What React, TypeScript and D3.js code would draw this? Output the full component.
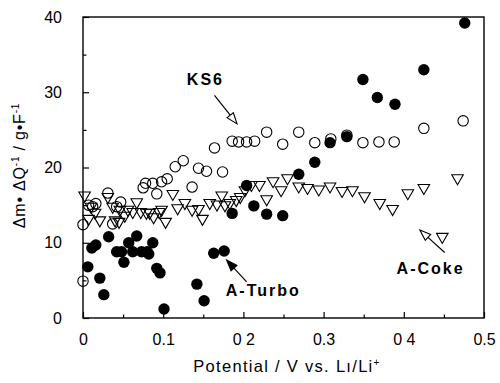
import React, { useEffect, useRef } from "react";
import * as d3 from "d3";

// ---- data ----
const turboV = [0.006, 0.011, 0.016, 0.021, 0.026, 0.032, 0.042, 0.048, 0.051, 0.057, 0.062, 0.067, 0.073, 0.080, 0.082, 0.087, 0.092, 0.096, 0.101, 0.142, 0.151, 0.163, 0.176, 0.186, 0.204, 0.213, 0.229, 0.249, 0.269, 0.289, 0.308, 0.329, 0.349, 0.367, 0.389, 0.425, 0.476];
const turboY = [6.8, 9.3, 9.7, 5.3, 3.1, 10.8, 8.8, 8.8, 7.4, 10.0, 8.8, 10.9, 8.8, 8.8, 8.5, 10.0, 6.6, 6.0, 1.2, 4.5, 2.3, 8.6, 8.9, 13.9, 17.6, 14.9, 13.8, 13.6, 19.1, 20.7, 23.3, 24.1, 31.7, 29.3, 28.4, 33.0, 39.2];

const ks6V = [0.0, 0.0, 0.007, 0.012, 0.016, 0.031, 0.037, 0.042, 0.047, 0.075, 0.078, 0.087, 0.092, 0.098, 0.105, 0.115, 0.125, 0.136, 0.144, 0.154, 0.164, 0.174, 0.186, 0.194, 0.204, 0.214, 0.229, 0.249, 0.269, 0.289, 0.309, 0.329, 0.349, 0.369, 0.388, 0.425, 0.474];
const ks6Y = [4.9, 12.4, 15.0, 14.8, 15.2, 16.6, 12.5, 14.8, 15.4, 17.3, 17.9, 17.9, 16.5, 18.1, 18.5, 20.1, 20.9, 17.4, 19.9, 19.5, 22.6, 19.4, 23.5, 23.4, 23.4, 23.5, 24.7, 23.1, 24.7, 23.3, 23.8, 24.3, 23.3, 23.4, 23.4, 25.2, 26.2];

const cokeV = [0.002, 0.007, 0.010, 0.015, 0.021, 0.031, 0.037, 0.040, 0.045, 0.046, 0.052, 0.056, 0.062, 0.067, 0.072, 0.079, 0.083, 0.088, 0.095, 0.098, 0.103, 0.112, 0.118, 0.127, 0.136, 0.144, 0.149, 0.158, 0.167, 0.173, 0.177, 0.183, 0.191, 0.196, 0.202, 0.210, 0.220, 0.229, 0.237, 0.247, 0.255, 0.269, 0.280, 0.294, 0.308, 0.323, 0.336, 0.351, 0.370, 0.386, 0.405, 0.425, 0.448, 0.467];
const cokeY = [16.3, 13.2, 14.8, 14.0, 13.0, 16.1, 14.8, 13.0, 12.8, 14.4, 13.6, 14.4, 14.1, 15.4, 14.1, 14.0, 14.0, 13.4, 14.1, 14.4, 12.8, 16.5, 14.6, 15.3, 14.4, 14.5, 13.2, 15.3, 15.1, 16.3, 15.0, 15.3, 15.7, 16.1, 17.0, 17.7, 17.7, 15.8, 18.2, 17.0, 18.6, 17.5, 17.3, 17.1, 17.5, 16.9, 17.0, 16.2, 15.3, 14.5, 16.6, 17.3, 10.8, 18.6];

const xTickValues = [0, 0.1, 0.2, 0.3, 0.4, 0.5];
const xTickLabels = ["0", "0.1", "0 2", "0.3", "0 4", "0.5"];
const yTickValues = [0, 10, 20, 30, 40];
const yTickLabels = ["0", "10", "20", "30", "40"];

// annotations: label text, label anchor [v, y], arrow from [v,y] to [v,y], head style
const annoText = ["KS6", "A-Turbo", "A-Coke"];
const annoLabelAt = [[0.1295, 31.0], [0.178, 2.9], [0.391, 5.85]];
const annoFrom = [[0.164, 29.6], [0.204, 4.8], [0.451, 8.7]];
const annoTo = [[0.192, 25.8], [0.179, 7.7], [0.420, 11.7]];
const annoHeadFilled = [false, true, false];

const W = 500;
const H = 383;
const FONT = "'Liberation Sans', Arial, Helvetica, sans-serif";

export default function App() {
  const ref = useRef<SVGSVGElement>(null);

  const x = d3.scaleLinear().domain([0, 0.5]).range([83, 484]);
  const y = d3.scaleLinear().domain([0, 40]).range([318, 17]);

  useEffect(() => {
    const svg = d3.select(ref.current);
    svg.selectAll(".ax").remove();

    const gx = svg.append("g").attr("class", "ax").attr("transform", `translate(0,${y(0)})`);
    gx.call(
      d3.axisBottom(x).tickValues(xTickValues).tickSizeInner(-6).tickSizeOuter(0).tickPadding(16)
        .tickFormat((d, i) => xTickLabels[i])
    );
    const gxm = svg.append("g").attr("class", "ax").attr("transform", `translate(0,${y(0)})`);
    gxm.call(d3.axisBottom(x).tickValues([0.05, 0.15, 0.25, 0.35, 0.45]).tickSizeInner(-3.5).tickSizeOuter(0).tickFormat(() => ""));

    const gy = svg.append("g").attr("class", "ax").attr("transform", `translate(${x(0)},0)`);
    gy.call(
      d3.axisLeft(y).tickValues(yTickValues).tickSizeInner(-6).tickSizeOuter(0).tickPadding(21)
        .tickFormat((d, i) => yTickLabels[i])
    );
    const gym = svg.append("g").attr("class", "ax").attr("transform", `translate(${x(0)},0)`);
    gym.call(d3.axisLeft(y).tickValues([5, 15, 25, 35]).tickSizeInner(-3.5).tickSizeOuter(0).tickFormat(() => ""));

    svg.selectAll(".ax path").remove();
    svg.selectAll(".ax line").attr("stroke", "#000").attr("stroke-width", 1.2);
    svg.selectAll(".ax text").attr("font-family", FONT).attr("font-size", 16).attr("fill", "#000");
  }, []);

  const tri = d3.symbol().type(d3.symbolTriangle).size(58)() as string;

  const arrowHead = (i: number) => {
    const [fx, fy] = [x(annoFrom[i][0]), y(annoFrom[i][1])];
    const [tx, ty] = [x(annoTo[i][0]), y(annoTo[i][1])];
    const ang = Math.atan2(ty - fy, tx - fx);
    const L = 11, Wd = 4;
    const bx = tx - L * Math.cos(ang), by = ty - L * Math.sin(ang);
    const px = -Math.sin(ang) * Wd, py = Math.cos(ang) * Wd;
    const p = d3.path();
    p.moveTo(tx, ty);
    p.lineTo(bx + px, by + py);
    p.lineTo(bx - px, by - py);
    p.closePath();
    return { d: p.toString(), bx, by, fx, fy };
  };

  return (
    <svg ref={ref} width={W} height={H} style={{ position: "absolute", left: 0, top: 0, background: "#fff" }}>
      <rect x={0} y={0} width={W} height={H} fill="#fff" />
      <rect x={x(0)} y={y(40)} width={x(0.5) - x(0)} height={y(0) - y(40)} fill="none" stroke="#000" strokeWidth={1.4} />

      {cokeV.map((v, i) => (
        <path key={"c" + i} d={tri} transform={`translate(${x(v)},${y(cokeY[i])}) rotate(180)`} fill="none" stroke="#000" strokeWidth={1.1} />
      ))}
      {ks6V.map((v, i) => (
        <circle key={"k" + i} cx={x(v)} cy={y(ks6Y[i])} r={5.2} fill="none" stroke="#000" strokeWidth={1.1} />
      ))}
      {turboV.map((v, i) => (
        <circle key={"t" + i} cx={x(v)} cy={y(turboY[i])} r={5.7} fill="#000" />
      ))}

      {annoText.map((t, i) => {
        const a = arrowHead(i);
        return (
          <g key={"a" + i}>
            <line x1={a.fx} y1={a.fy} x2={a.bx} y2={a.by} stroke="#000" strokeWidth={1.2} />
            <path d={a.d} fill={annoHeadFilled[i] ? "#000" : "#fff"} stroke="#000" strokeWidth={1.1} />
            <text x={x(annoLabelAt[i][0])} y={y(annoLabelAt[i][1])} fontFamily={FONT} fontWeight="bold" fontSize={16} letterSpacing={2}>
              {t}
            </text>
          </g>
        );
      })}

      <text x={287} y={372} textAnchor="middle" fontFamily={FONT} fontSize={16.5} letterSpacing={1.3}>
        Potential / V vs. Lı/Li<tspan dy={-6} fontSize={10}>+</tspan>
      </text>
      <text transform={`translate(25,${(y(0) + y(40)) / 2 - 2}) rotate(-90)`} textAnchor="middle" fontFamily={FONT} fontSize={16} letterSpacing={0.8}>
        Δm• ΔQ<tspan dy={-6} fontSize={10}>-1</tspan>
        <tspan dy={6}> / g•F</tspan>
        <tspan dy={-6} fontSize={10}>-1</tspan>
      </text>
    </svg>
  );
}
